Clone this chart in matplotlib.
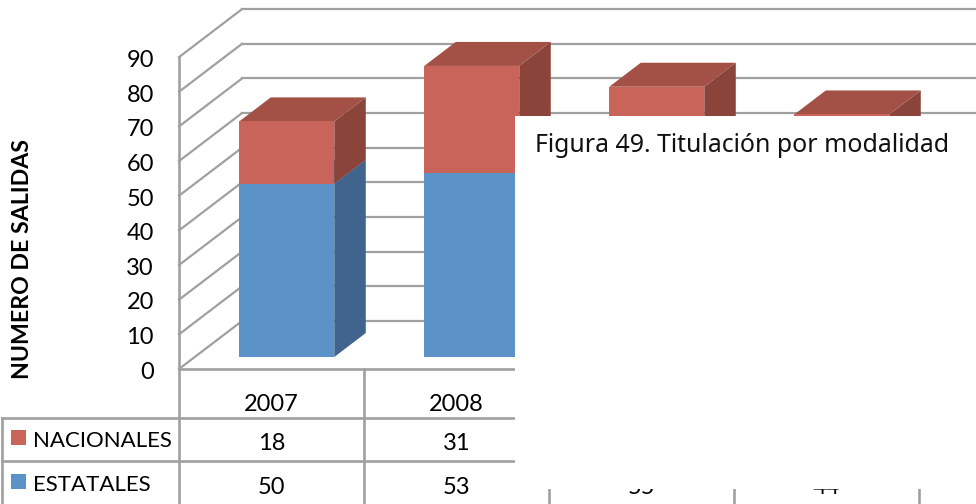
import matplotlib
matplotlib.use("Agg")
import matplotlib.pyplot as plt
from matplotlib.patches import Rectangle

# Datos (2009 y 2010 quedan casi tapados por el recuadro)
years = ["2007", "2008", "2009", "2010"]
nacionales = [18, 31, 23, 26]
estatales = [50, 53, 55, 44]
yticks = [0, 10, 20, 30, 40, 50, 60, 70, 80, 90]

W, H = 976, 504
X0, Y0 = 179.0, 369.0   # esquina frontal del piso, en pixeles
COL = 185.0             # ancho de columna
UNIT = 3.465            # pixeles por unidad
DX = 63.0 / COL         # fondo del grafico
DY = 48.0 / UNIT
GRID = "#a0a0a0"
LW = 1.6


def xd(px):
    return (px - X0) / COL


def yd(py):
    return (Y0 - py) / UNIT


fig = plt.figure(figsize=(W / 100, H / 100), dpi=100)
ax = fig.add_axes([0, 0, 1, 1])
ax.set_xlim(xd(0), xd(W))
ax.set_ylim(yd(H), yd(0))
ax.axis("off")
plt.rcParams["font.family"] = ["Lato", "DejaVu Sans"]

# paredes
for v in yticks:
    ax.plot([0, DX], [v, v + DY], color=GRID, lw=LW, zorder=1)
    ax.plot([DX, xd(W)], [v + DY, v + DY], color=GRID, lw=LW, zorder=1)
ax.plot([0, 0], [yd(H), 90], color=GRID, lw=LW + 0.3, zorder=1)
ax.plot([xd(2), xd(W)], [yd(417.5), yd(417.5)], color=GRID, lw=LW + 0.3, zorder=1)
ax.plot([xd(2), xd(W)], [yd(461), yd(461)], color=GRID, lw=LW + 0.3, zorder=1)
ax.plot([xd(2), xd(2)], [yd(417.5), yd(H)], color=GRID, lw=LW + 0.3, zorder=1)
ax.plot([0, xd(W)], [0, 0], color=GRID, lw=LW + 0.3, zorder=1)
for i in range(1, 5):
    ax.plot([i, i], [yd(H), 0], color=GRID, lw=LW + 0.3, zorder=1)

# barras
bw = 95.0 / COL
d0x, d0y = DX * 0.25, DY * 0.25
dbx, dby = DX * 0.5, DY * 0.5
series = [(estatales, "#5b93c9", "#41648e", "#4f7fb0"),
          (nacionales, "#c9645b", "#8b443a", "#a35046")]
for i in range(len(years)):
    left = i + d0x + (1 - bw) / 2 - d0x * 0.03
    bottom = d0y
    for values, front, side, top in series:
        v = values[i]
        right = left + bw
        ax.fill([right, right + dbx, right + dbx, right],
                [bottom, bottom + dby, bottom + v + dby, bottom + v],
                color=side, lw=0, zorder=3)
        ax.fill([left, right, right + dbx, left + dbx],
                [bottom + v, bottom + v, bottom + v + dby, bottom + v + dby],
                color=top, lw=0, zorder=3)
        ax.bar(left, v, bw, bottom=bottom, align="edge", color=front, lw=0, zorder=4)
        bottom += v

# etiquetas del eje y
for v in yticks:
    ax.text(xd(154), v - 0.95, str(v), ha="right", va="center", fontsize=17, color="black", zorder=6)
ax.text(xd(22.5), yd(259), "NUMERO DE SALIDAS", rotation=90, ha="center", va="center",
        fontsize=16.7, fontweight="bold", color="black", zorder=6)

# tabla de datos
for i in range(len(years)):
    ax.text(i + 0.5, yd(404.5), years[i], ha="center", va="center", fontsize=17, zorder=6)
    ax.text(i + 0.5, yd(443), str(nacionales[i]), ha="center", va="center", fontsize=17, zorder=6)
    ax.text(i + 0.5, yd(487), str(estatales[i]), ha="center", va="center", fontsize=17, zorder=6)
ax.add_patch(Rectangle((xd(11), yd(445)), 15 / COL, 15 / UNIT, color="#c9645b", lw=0, zorder=6))
ax.add_patch(Rectangle((xd(11), yd(489)), 15 / COL, 15 / UNIT, color="#5b93c9", lw=0, zorder=6))
ax.text(xd(33), yd(441), "NACIONALES", ha="left", va="center", fontsize=16, zorder=6)
ax.text(xd(33), yd(485), "ESTATALES", ha="left", va="center", fontsize=16, zorder=6)

# recuadro blanco con el titulo encima del grafico
ax.add_patch(Rectangle((xd(515), yd(489)), (W - 515) / COL, (489 - 116) / UNIT,
                       color="white", lw=0, zorder=8))
ax.text(xd(535), yd(146), "Figura 49. Titulación por modalidad", ha="left", va="center",
        fontsize=17.9, family=["Noto Sans", "DejaVu Sans"], color="#111111", zorder=9)

fig.savefig("out.png", dpi=100)
